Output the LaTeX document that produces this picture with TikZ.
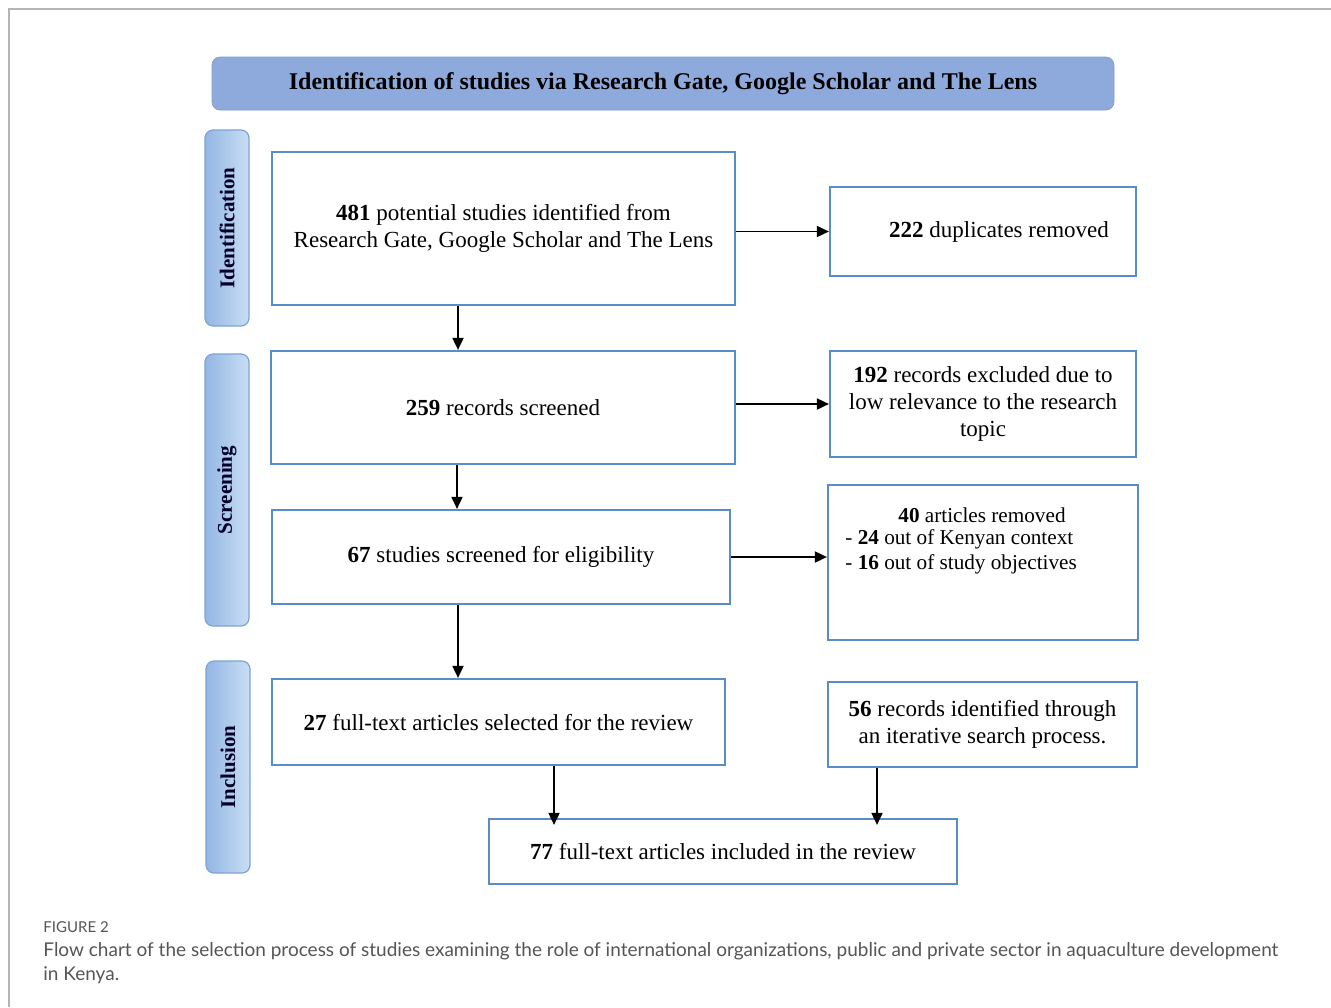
\documentclass[tikz,border=0pt]{standalone}
\usepackage{fontspec}
\setmainfont{Liberation Serif}
\newfontfamily\capfont{Lato}
\usetikzlibrary{arrows.meta}
\definecolor{boxblue}{HTML}{5A8CC8}
\definecolor{headfill}{HTML}{8EAADD}
\definecolor{sidedark}{HTML}{93B6E4}
\definecolor{sidelight}{HTML}{C9DEF4}
\definecolor{sideedge}{HTML}{7FA3D3}
\definecolor{framegray}{HTML}{B4B4B4}
\definecolor{capgray}{HTML}{555555}
\begin{document}
\begin{tikzpicture}[x=0.5pt,y=-0.5pt,
  flowbox/.style={draw=boxblue, line width=1.1pt, fill=white, inner sep=2pt, align=center,
    font=\fontsize{11.5}{13.5}\selectfont, text=black},
  txt/.style={inner sep=0pt, align=center, font=\fontsize{10.6}{12.3}\selectfont, text=black},
  sidebox/.style={rounded corners=4pt, draw=sideedge, line width=0.6pt, left color=sidedark, right color=sidelight,
    minimum height=22pt, inner sep=0pt, rotate=90, font=\bfseries\fontsize{10.5}{12}\selectfont, text=black!85!blue},
  arr/.style={line width=0.9pt, -{Triangle[length=6pt,width=5.5pt]}}]
\useasboundingbox (0,0) rectangle (1331,1007);
\fill[white] (0,0) rectangle (1331,1007);
% outer frame
\draw[framegray, line width=0.8pt] (9,1007) -- (9,9) -- (1331,9);
% header
\node[rounded corners=4pt, fill=headfill, draw=headfill!90!black, line width=0.3pt,
  minimum width=451pt, minimum height=26.5pt, inner sep=0pt,
  font=\bfseries\fontsize{12}{14}\selectfont, text=black] (head) at (663,83.5)
  {Identification of studies via Research Gate, Google Scholar and The Lens};
% side labels
\node[sidebox, minimum width=98pt] (sid) at (227,228) {Identification};
\node[sidebox, minimum width=136pt] (sscr) at (227,490) {Screening};
\node[sidebox, minimum width=106pt] (sinc) at (228,767) {Inclusion};
% boxes
\node[flowbox, minimum width=231.5pt, minimum height=76.5pt] (b1) at (503.5,228.5)
  {\textbf{481} potential studies identified from\\Research Gate, Google Scholar and The Lens};
\node[flowbox, minimum width=153pt, minimum height=44.5pt] (dup) at (983,231.5)
  {\hspace*{16pt}\textbf{222} duplicates removed};
\node[flowbox, minimum width=232pt, minimum height=56.5pt] (b2) at (503,407.5)
  {\textbf{259} records screened};
\node[flowbox, minimum width=153pt, minimum height=53pt] (excl) at (983,404)
  {\textbf{192} records excluded due to\\low relevance to the research\\topic};
\node[flowbox, minimum width=229pt, minimum height=47pt] (b3) at (501,557)
  {\textbf{67} studies screened for eligibility};
\node[flowbox, minimum width=155pt, minimum height=77.5pt] (b40) at (983,562.5) {};
\node[txt] (t40a) at (982,515) {\textbf{40} articles removed};
\node[txt, anchor=west, align=left] (t40b) at (845,552)
  {- \textbf{24} out of Kenyan context\\- \textbf{16} out of study objectives};
\node[flowbox, minimum width=226.5pt, minimum height=43pt] (b4) at (498.5,722)
  {\textbf{27} full-text articles selected for the review};
\node[flowbox, minimum width=154.5pt, minimum height=42.5pt] (b56) at (982.5,724.5)
  {\textbf{56} records identified through\\an iterative search process.};
\node[flowbox, minimum width=234pt, minimum height=32.5pt] (b77) at (723,851.5)
  {\textbf{77} full-text articles included in the review};
% connector columns
\coordinate (c1) at (458,0);
\coordinate (c2) at (457,0);
\coordinate (c3) at (554,0);
\coordinate (c4) at (877,0);
% arrows
\draw[arr] (b1.east |- dup.west) -- (dup.west);
\draw[arr] (b2.east |- excl.west) -- (excl.west);
\draw[arr] (b3.east |- b3.center) -- (b40.west |- b3.center);
\draw[arr] (b1.south -| c1) -- (b2.north -| c1);
\draw[arr] (b2.south -| c2) -- (b3.north -| c2);
\draw[arr] (b3.south -| c1) -- (b4.north -| c1);
\draw[arr] (b4.south -| c3) -- ([yshift=-3.5pt]b77.north -| c3);
\draw[arr] (b56.south -| c4) -- ([yshift=-3.5pt]b77.north -| c4);
% caption
\node[anchor=west, inner sep=0pt, text=capgray, font=\capfont\fontsize{7.5}{9}\selectfont] (figlab) at (43,927) {FIGURE 2};
\node[anchor=north west, inner sep=0pt, align=left, text=capgray, font=\capfont\fontsize{9.5}{12}\selectfont] (cap) at (43,942)
  {Flow chart of the selection process of studies examining the role of international organizations, public and private sector in aquaculture development\\in Kenya.};
\end{tikzpicture}
\end{document}
